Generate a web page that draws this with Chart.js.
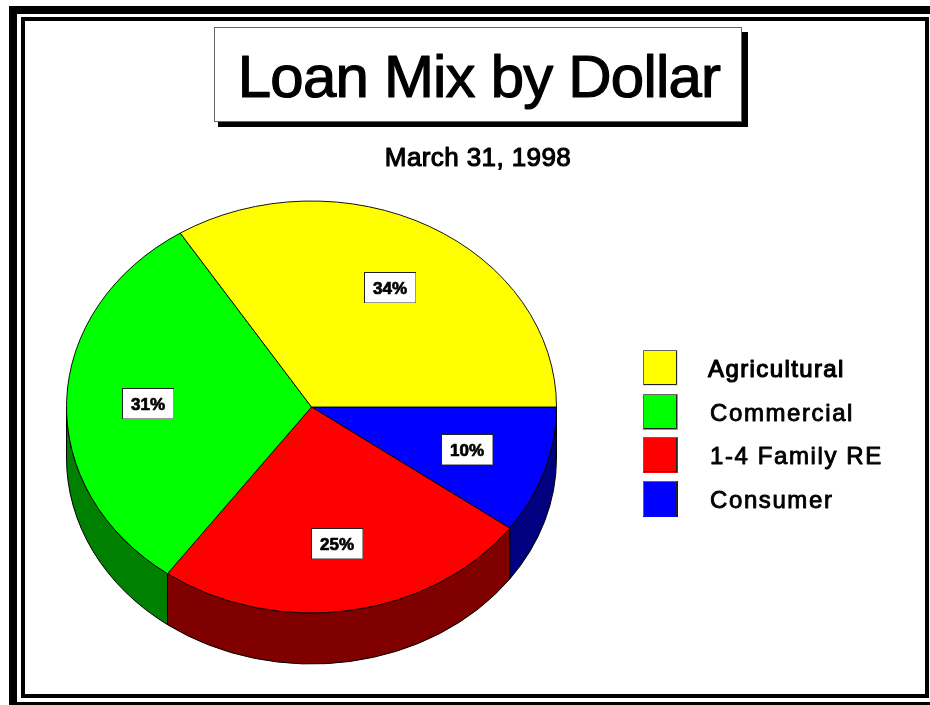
<!DOCTYPE html>
<html>
<head>
<meta charset="utf-8">
<style>html,body{margin:0;padding:0;background:#fff}canvas{display:block}</style>
<script src="https://cdn.jsdelivr.net/npm/chart.js@4"></script>
</head>
<body>
<canvas id="c" width="930" height="705"></canvas>
<script>
const titleText = "Loan Mix by Dollar";
const subtitleText = "March 31, 1998";
const categories = ["Agricultural", "Commercial", "1-4 Family RE", "Consumer"];
const shares = [34, 31, 25, 10];
const topColors = ["#ffff00", "#00ff00", "#ff0000", "#0000ff"];
const sideColors = ["#808000", "#008000", "#800000", "#000080"];

const tilt = 206 / 245;
const depth = 51;
const FONT = '"Liberation Sans", Arial, sans-serif';

function rev(a){ return a.slice().reverse(); }

function txt(ctx, s, x, y, font, spacing, stroke, align){
  ctx.save();
  ctx.font = font;
  ctx.letterSpacing = spacing + "px";
  ctx.textAlign = align || "left";
  ctx.textBaseline = "alphabetic";
  ctx.fillStyle = "#000";
  ctx.fillText(s, x, y);
  if (stroke){ ctx.strokeStyle = "#000"; ctx.lineWidth = stroke; ctx.lineJoin = "round"; ctx.strokeText(s, x, y); }
  ctx.restore();
}

const decor = {
  id: "decor",
  beforeDraw(chart){
    const ctx = chart.ctx;
    ctx.save();
    ctx.fillStyle = "#fff";
    ctx.fillRect(0, 0, 930, 705);
    ctx.fillStyle = "#000";
    // outer frame
    ctx.fillRect(9, 6, 930, 8);
    ctx.fillRect(9, 6, 8, 705);
    ctx.fillRect(9, 702, 930, 8);
    // inner frame
    ctx.fillRect(21, 17, 908, 4);
    ctx.fillRect(21, 17, 4, 681);
    ctx.fillRect(21, 694, 908, 4);
    ctx.fillRect(925, 17, 4, 681);
    // title box
    ctx.fillRect(218, 32, 530, 95);
    ctx.fillStyle = "#fff";
    ctx.fillRect(214, 27, 528, 95);
    ctx.strokeStyle = "#666";
    ctx.lineWidth = 1;
    ctx.strokeRect(214.5, 27.5, 527, 94);
    ctx.restore();
    txt(ctx, titleText, 479, 97, "60px " + FONT, -0.8, 1.2, "center");
    txt(ctx, subtitleText, 478, 166, "26px " + FONT, 0.4, 1.1, "center");
    // legend
    const data = chart.data.datasets[0];
    categories.forEach((c, i) => {
      const y = Math.round(350 + i * 43.7);
      const col = rev(data.backgroundColor)[i];
      ctx.fillStyle = col;
      ctx.fillRect(643, y, 35, 36);
      ctx.lineWidth = 1;
      ctx.strokeStyle = "#666";
      ctx.beginPath();
      ctx.moveTo(643.5, y + 35); ctx.lineTo(643.5, y + .5); ctx.lineTo(677, y + .5);
      ctx.stroke();
      ctx.strokeStyle = "#222";
      ctx.beginPath();
      ctx.moveTo(676.5, y + 1); ctx.lineTo(676.5, y + 34.5); ctx.lineTo(644, y + 34.5);
      ctx.stroke();
      txt(ctx, c, i === 0 ? 708 : 710, y + 27, "24px " + FONT, i === 0 ? 1.4 : 1.6, i === 0 ? 1.2 : 0.9);
    });
  },
  beforeDatasetsDraw(chart){
    const ctx = chart.ctx;
    const meta = chart.getDatasetMeta(0);
    const sides = rev(sideColors);
    ctx.save();
    meta.data.forEach((arc, i) => {
      const a0 = Math.max(arc.startAngle, 0), a1 = Math.min(arc.endAngle, Math.PI);
      if (a1 <= a0) return;
      const rx = arc.outerRadius, ry = rx * tilt;
      ctx.beginPath();
      ctx.ellipse(arc.x, arc.y, rx, ry, 0, a0, a1);
      ctx.ellipse(arc.x, arc.y + depth, rx, ry, 0, a1, a0, true);
      ctx.closePath();
      ctx.fillStyle = sides[i];
      ctx.fill();
      ctx.strokeStyle = "#000";
      ctx.lineWidth = 1;
      ctx.stroke();
    });
    const c = meta.data[0];
    ctx.translate(c.x, c.y);
    ctx.scale(1, tilt);
    ctx.translate(-c.x, -c.y);
    // left open: restored in afterDatasetsDraw
  },
  afterDatasetsDraw(chart){
    const ctx = chart.ctx;
    ctx.restore();
    const meta = chart.getDatasetMeta(0);
    const vals = chart.data.datasets[0].data;
    meta.data.forEach((arc, i) => {
      const mid = (arc.startAngle + arc.endAngle) / 2;
      const x = arc.x + Math.cos(mid) * arc.outerRadius * 2 / 3;
      const y = arc.y + Math.sin(mid) * arc.outerRadius * tilt * 2 / 3;
      const L = Math.round(x - 26), T = Math.round(y - 15);
      ctx.fillStyle = "#fff";
      ctx.fillRect(L, T, 52, 31);
      ctx.strokeStyle = "#222";
      ctx.lineWidth = 1;
      ctx.strokeRect(L + .5, T + .5, 51, 30);
      ctx.strokeStyle = "#999";
      ctx.beginPath();
      ctx.moveTo(L + 51.5, T + 1); ctx.lineTo(L + 51.5, T + 30.5); ctx.lineTo(L + 1, T + 30.5);
      ctx.stroke();
      txt(ctx, vals[i] + "%", L + 26, T + 22, "bold 17px " + FONT, 0, 0.7, "center");
    });
  }
};

new Chart(document.getElementById("c"), {
  type: "pie",
  data: {
    labels: rev(categories),
    datasets: [{
      data: rev(shares),
      backgroundColor: rev(topColors),
      borderColor: "#000",
      borderWidth: 1
    }]
  },
  options: {
    responsive: false,
    animation: false,
    events: [],
    rotation: 90,
    layout: { padding: { left: 66, right: 373, top: 161.5, bottom: 52.5 } },
    plugins: { legend: { display: false }, tooltip: { enabled: false }, title: { display: false } }
  },
  plugins: [decor]
});
</script>
</body>
</html>
